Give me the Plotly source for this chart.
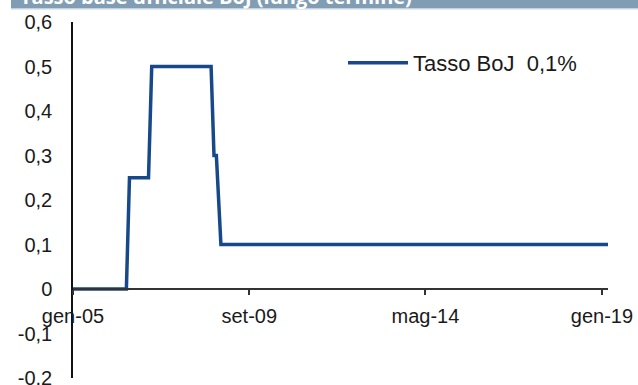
import plotly.graph_objects as go

# ---- data ----
dates = ["2005-01-01", "2006-06-01", "2006-07-01", "2007-01-01", "2007-02-01",
         "2008-08-28", "2008-09-25", "2008-10-18", "2008-12-01", "2019-03-01"]
rates = [0, 0, 0.25, 0.25, 0.5, 0.5, 0.3, 0.3, 0.1, 0.1]
series_name = "Tasso BoJ\u00a0\u00a00,1%"
title_text = "Tasso base ufficiale BoJ (lungo termine)"

x_tickvals = ["2005-01-01", "2009-09-01", "2014-05-01", "2019-01-01"]
x_ticktext = ["gen-05", "set-09", "mag-14", "gen-19"]
y_tickvals = [-0.2, -0.1, 0, 0.1, 0.2, 0.3, 0.4, 0.5, 0.6]
y_ticktext = ["-0,2", "-0,1", "0", "0,1", "0,2", "0,3", "0,4", "0,5", "0,6"]

# ---- layout constants ----
W, H = 638, 385
ML, MR, MT, MB = 73, 30, 22, 7
PW, PH = W - ML - MR, H - MT - MB
YMIN, YMAX = -0.2, 0.6

def px_x(p):
    return (p - ML) / PW

def px_y(p):
    return (H - MB - p) / PH

fig = go.Figure()
fig.add_trace(go.Scatter(
    x=dates, y=rates, mode="lines", name=series_name,
    line=dict(color="#17498a", width=3.5),
))

fig.update_layout(
    width=W, height=H,
    margin=dict(l=ML, r=MR, t=MT, b=MB, autoexpand=False),
    paper_bgcolor="white", plot_bgcolor="white",
    font=dict(family="Liberation Sans, Arial, sans-serif", size=20, color="#1a1a1a"),
    showlegend=True,
    legend=dict(x=px_x(343), y=px_y(63), xanchor="left", yanchor="middle",
                bgcolor="rgba(0,0,0,0)", font=dict(size=22), itemwidth=60),
    xaxis=dict(
        type="date", range=[dates[0], dates[-1]],
        tickvals=x_tickvals, ticktext=x_ticktext,
        showgrid=False, zeroline=False,
        showline=True, linecolor="#333333", linewidth=1.5,
        ticks="outside", ticklen=5, tickwidth=1.5, tickcolor="#333333",
        anchor="free", position=(0 - YMIN) / (YMAX - YMIN),
        tickfont=dict(size=20), ticklabeloverflow="allow", automargin=False,
        ticklabelstandoff=4,
    ),
    yaxis=dict(
        range=[YMIN, YMAX], tickvals=y_tickvals, ticktext=y_ticktext,
        showgrid=False, zeroline=False,
        showline=True, linecolor="#111111", linewidth=1.5,
        ticks="", ticklabelstandoff=15, ticklabeloverflow="allow",
        tickfont=dict(size=20), automargin=False,
    ),
)

# title band at top
fig.add_shape(type="rect", xref="paper", yref="paper",
              x0=px_x(11), x1=px_x(W + 2), y0=px_y(8.5), y1=px_y(-2),
              fillcolor="#809db3", line=dict(width=0), layer="above")
fig.add_shape(type="line", xref="paper", yref="paper",
              x0=px_x(11), x1=px_x(W + 2), y0=px_y(9), y1=px_y(9),
              line=dict(color="#c9d6e0", width=1), layer="above")
fig.add_annotation(text="<b>" + title_text + "</b>", xref="paper", yref="paper",
                   x=px_x(19), y=px_y(6), xanchor="left", yanchor="bottom",
                   showarrow=False, borderpad=0, yshift=-5,
                   font=dict(family="Open Sans, sans-serif", size=20, color="white"))

fig.write_html("out.html")
